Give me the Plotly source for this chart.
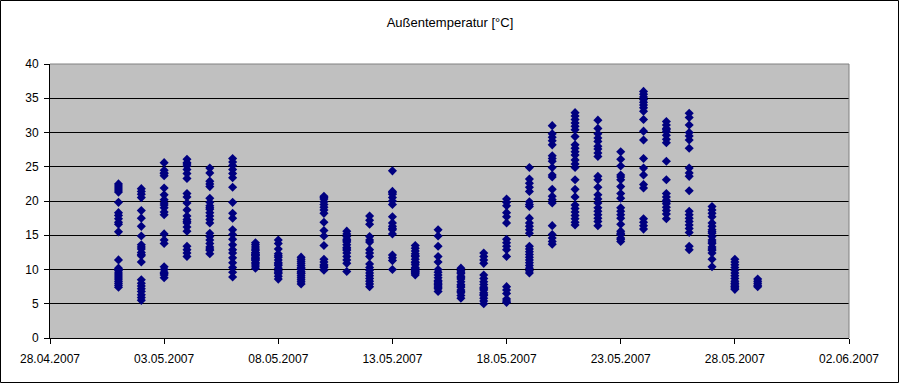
import plotly.graph_objects as go

# Days (x positions) and the temperature readings observed on each day
days = ["2007-05-01", "2007-05-02", "2007-05-03", "2007-05-04", "2007-05-05",
        "2007-05-06", "2007-05-07", "2007-05-08", "2007-05-09", "2007-05-10",
        "2007-05-11", "2007-05-12", "2007-05-13", "2007-05-14", "2007-05-15",
        "2007-05-16", "2007-05-17", "2007-05-18", "2007-05-19", "2007-05-20",
        "2007-05-21", "2007-05-22", "2007-05-23", "2007-05-24", "2007-05-25",
        "2007-05-26", "2007-05-27", "2007-05-28", "2007-05-29"]

temps = [
    [22.5, 22.2, 21.9, 21.6, 21.3, 19.8, 18.3, 17.9, 17.4, 16.9, 16.6, 15.5, 11.4, 10.2, 10.0, 9.8, 9.5, 9.2, 8.9, 8.6, 8.3, 8.0, 7.7, 7.4],
    [21.8, 21.4, 21.0, 20.5, 18.6, 17.5, 16.3, 14.9, 13.6, 13.3, 13.0, 12.5, 12.2, 12.0, 11.1, 8.5, 8.0, 7.6, 7.2, 6.8, 6.3, 5.9, 5.5],
    [25.6, 24.5, 24.1, 24.0, 23.7, 21.9, 20.9, 20.2, 19.7, 19.4, 19.0, 18.4, 18.0, 15.2, 14.3, 13.8, 10.4, 10.0, 9.6, 9.4, 9.2, 8.8],
    [26.1, 25.6, 25.4, 25.1, 24.6, 24.0, 23.3, 21.1, 20.6, 19.7, 18.7, 17.8, 17.3, 17.0, 16.8, 16.2, 15.6, 13.4, 12.9, 12.4, 11.9],
    [24.8, 24.1, 22.9, 22.5, 22.1, 20.4, 19.8, 19.3, 19.0, 18.8, 18.3, 17.8, 17.3, 16.8, 15.3, 14.8, 14.3, 13.8, 13.3, 13.0, 12.8, 12.3],
    [26.2, 25.7, 25.2, 24.6, 24.0, 23.4, 22.0, 19.8, 18.2, 17.5, 15.8, 15.1, 14.4, 13.6, 12.9, 12.4, 11.7, 11.0, 10.3, 9.6, 8.9],
    [13.9, 13.6, 13.3, 13.0, 12.8, 12.5, 12.4, 12.2, 12.1, 12.0, 11.8, 11.6, 11.5, 11.3, 11.0, 10.8, 10.5, 10.2],
    [14.3, 13.8, 13.0, 12.3, 12.0, 11.8, 11.4, 11.0, 10.8, 10.6, 10.2, 9.8, 9.6, 9.4, 9.0, 8.6],
    [11.8, 11.5, 11.2, 10.9, 10.6, 10.3, 10.1, 10.0, 9.7, 9.5, 9.4, 9.1, 8.8, 8.5, 8.2, 7.9],
    [20.7, 20.5, 20.3, 19.9, 19.5, 19.1, 18.7, 18.2, 16.9, 15.7, 14.9, 13.5, 11.5, 11.1, 10.7, 10.5, 10.3, 9.9],
    [15.6, 15.2, 14.8, 14.4, 14.2, 14.0, 13.6, 13.2, 13.0, 12.8, 12.4, 11.9, 11.4, 10.9, 9.7],
    [17.8, 17.2, 16.6, 14.8, 14.3, 14.0, 12.9, 12.4, 11.9, 10.8, 10.3, 9.9, 9.5, 9.1, 8.7, 8.3, 7.9, 7.5],
    [24.4, 21.4, 21.2, 21.0, 20.5, 20.0, 19.5, 17.7, 16.8, 16.3, 16.0, 15.8, 15.2, 12.1, 11.7, 11.3, 10.0],
    [13.5, 13.1, 12.7, 12.3, 12.0, 11.9, 11.5, 11.1, 11.0, 10.7, 10.3, 10.1, 10.0, 9.9, 9.7, 9.6, 9.4, 9.2],
    [15.8, 14.9, 13.4, 11.9, 11.1, 10.0, 9.6, 9.2, 8.8, 8.4, 8.2, 8.0, 7.8, 7.6, 7.4, 7.2, 6.8],
    [10.2, 9.8, 9.6, 9.4, 9.0, 8.8, 8.6, 8.2, 7.8, 7.6, 7.4, 7.0, 6.8, 6.6, 6.2, 5.8],
    [12.4, 11.9, 11.4, 10.9, 9.2, 8.7, 8.2, 7.8, 7.4, 7.2, 7.0, 6.6, 6.4, 6.2, 5.8, 5.4, 5.0],
    [20.3, 19.8, 19.3, 18.3, 17.7, 16.8, 14.4, 13.9, 13.4, 12.9, 11.9, 7.5, 7.0, 6.5, 5.7, 5.4, 5.2],
    [24.9, 23.2, 22.6, 22.0, 21.4, 19.9, 19.5, 19.2, 17.5, 16.8, 16.3, 15.8, 15.3, 13.4, 13.0, 12.6, 12.2, 11.8, 11.4, 11.0, 10.6, 10.2, 9.8, 9.5],
    [31.0, 29.8, 29.3, 28.8, 28.2, 26.6, 26.2, 25.8, 24.9, 23.8, 23.5, 21.7, 20.7, 20.2, 19.7, 16.4, 15.1, 14.6, 14.1, 13.7],
    [32.9, 32.4, 31.9, 31.4, 30.9, 30.4, 29.4, 28.2, 27.7, 27.2, 26.7, 26.0, 25.4, 24.9, 23.1, 21.7, 20.6, 19.4, 18.9, 18.4, 17.9, 17.4, 16.9, 16.5],
    [31.8, 30.6, 29.8, 29.2, 28.7, 28.0, 27.6, 27.0, 26.5, 23.6, 23.1, 22.0, 20.9, 20.3, 19.7, 19.0, 18.5, 18.0, 17.5, 17.0, 16.4],
    [27.2, 26.1, 25.1, 23.8, 23.5, 23.1, 22.1, 21.1, 20.4, 19.0, 18.5, 18.0, 17.5, 16.6, 15.6, 15.3, 15.1, 14.6, 14.4, 14.1],
    [36.0, 35.6, 35.2, 34.8, 34.4, 34.0, 33.6, 33.1, 31.9, 30.2, 28.9, 26.2, 24.8, 23.8, 22.4, 21.9, 17.4, 16.9, 16.4, 15.9],
    [31.6, 31.1, 30.6, 30.4, 30.1, 29.6, 29.0, 28.5, 25.8, 23.1, 21.1, 20.6, 20.1, 19.9, 19.6, 19.1, 18.6, 18.1, 17.4],
    [32.8, 32.2, 31.1, 30.0, 29.5, 28.9, 27.7, 24.8, 24.1, 23.6, 21.5, 18.5, 18.0, 17.5, 17.0, 16.5, 16.0, 15.4, 13.4, 12.9],
    [19.2, 18.7, 18.2, 17.7, 16.8, 16.3, 15.8, 15.5, 15.3, 14.8, 14.3, 14.0, 13.8, 13.3, 13.0, 12.8, 12.4, 11.5, 10.4],
    [11.5, 11.1, 10.7, 10.3, 9.9, 9.5, 9.1, 8.7, 8.3, 8.0, 7.9, 7.6, 7.5, 7.3, 7.1],
    [8.6, 8.3, 8.0, 7.7, 7.5],
]

x_range = ["2007-04-28", "2007-06-02"]
y_ticks = [0, 5, 10, 15, 20, 25, 30, 35, 40]
title_text = "Außentemperatur [°C]"

xs, ys = [], []
for d, vals in zip(days, temps):
    for v in vals:
        xs.append(d)
        ys.append(v)

fig = go.Figure()
fig.add_trace(go.Scatter(
    x=xs, y=ys, mode="markers",
    marker=dict(symbol="diamond", size=7, color="#000080",
                line=dict(width=0)),
    showlegend=False,
))

L, R, T, B = 50, 51, 64, 46
W, H = 900, 384
pw, ph = W - L - R, H - T - B

font = dict(family="Liberation Sans, Arial, sans-serif", size=12, color="black")

fig.update_layout(
    width=W, height=H,
    margin=dict(l=L, r=R, t=T, b=B, pad=0),
    paper_bgcolor="white",
    plot_bgcolor="#C0C0C0",
    font=font,
    title=dict(text=title_text, x=0.5, xanchor="center", y=1 - 22 / H,
               yanchor="middle", font=dict(size=13, family=font["family"], color="black")),
    xaxis=dict(
        type="date", range=x_range, dtick=5 * 86400000, tick0="2007-04-28",
        tickformat="%d.%m.%Y", showgrid=False, zeroline=False,
        showline=True, linecolor="black", linewidth=1,
        ticks="outside", ticklen=5, tickcolor="black", tickwidth=1,
        tickfont=font, ticklabelstandoff=5,
    ),
    yaxis=dict(
        range=[0, 40], tickvals=y_ticks, showgrid=True, gridcolor="black",
        gridwidth=1, zeroline=False, showline=True, linecolor="black",
        linewidth=1, ticks="outside", ticklen=5, tickcolor="black",
        tickwidth=1, tickfont=font, ticklabelstandoff=3,
    ),
    shapes=[
        # grey plot-area border (top and right)
        dict(type="line", xref="paper", yref="paper", x0=0, x1=1, y0=1, y1=1,
             line=dict(color="#808080", width=1), layer="above"),
        dict(type="line", xref="paper", yref="paper", x0=1, x1=1, y0=0, y1=1,
             line=dict(color="#808080", width=1), layer="above"),
        # outer chart frame
        dict(type="rect", xref="paper", yref="paper",
             x0=(-L + 0.5) / pw, x1=(pw + R - 1.5) / pw,
             y0=(-B + 1.5) / ph, y1=(ph + T - 0.5) / ph,
             line=dict(color="black", width=1), fillcolor="rgba(0,0,0,0)",
             layer="above"),
    ],
)

fig.write_html(
    "out.html",
    config={"displayModeBar": False},
    post_script="document.body.style.margin='0';document.body.style.overflow='hidden';",
)
